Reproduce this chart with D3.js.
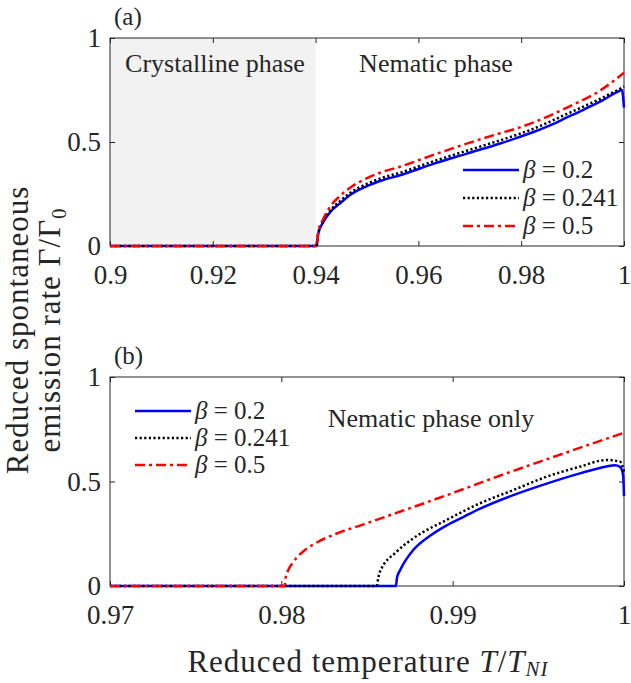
<!DOCTYPE html>
<html>
<head>
<meta charset="utf-8">
<title>Reduced spontaneous emission rate</title>
<script src="https://cdn.jsdelivr.net/npm/d3@7"></script>
<style>
  body { margin: 0; background: #fff; }
  text { font-family: "Liberation Serif", "Times New Roman", serif; fill: #262626; }
</style>
</head>
<body>
<div id="chart"></div>
<script>
// ---- data ----
// panel (a): T/T_NI from 0.9 to 1
const aBlueT  = [0.9, 0.9402, 0.9405, 0.9415, 0.943, 0.9445, 0.947, 0.9499, 0.953, 0.9564, 0.9629, 0.9694, 0.9759, 0.9792, 0.9824, 0.9856, 0.9889, 0.9921, 0.9958, 0.9985, 0.9996, 1.0];
const aBlueG  = [0, 0, 0.058, 0.115, 0.168, 0.2, 0.25, 0.287, 0.316, 0.340, 0.395, 0.444, 0.493, 0.52, 0.548, 0.58, 0.618, 0.655, 0.70, 0.738, 0.75, 0.665];
const aBlackT = [0.9, 0.9402, 0.9405, 0.9415, 0.943, 0.9445, 0.947, 0.9499, 0.953, 0.9564, 0.9629, 0.9694, 0.9759, 0.9792, 0.9824, 0.9856, 0.9889, 0.9954, 1.0];
const aBlackG = [0, 0, 0.06, 0.12, 0.175, 0.21, 0.26, 0.298, 0.328, 0.352, 0.407, 0.458, 0.508, 0.535, 0.564, 0.598, 0.635, 0.708, 0.766];
const aRedT   = [0.9, 0.9402, 0.9405, 0.9415, 0.943, 0.9445, 0.947, 0.9499, 0.953, 0.9564, 0.9629, 0.9694, 0.9759, 0.9792, 0.9824, 0.9856, 0.9889, 0.9954, 1.0];
const aRedG   = [0, 0, 0.065, 0.13, 0.195, 0.235, 0.285, 0.325, 0.356, 0.381, 0.438, 0.492, 0.542, 0.566, 0.594, 0.627, 0.665, 0.748, 0.833];

// panel (b): T/T_NI from 0.97 to 1
const bBlueT  = [0.97, 0.98669, 0.98675, 0.98693, 0.9877, 0.98868, 0.98965, 0.99062, 0.9916, 0.99354, 0.99549, 0.99743, 0.99899, 0.99947, 0.99977, 0.99995, 1.0];
const bBlueG  = [0, 0, 0.04, 0.075, 0.172, 0.24, 0.29, 0.33, 0.37, 0.435, 0.49, 0.539, 0.572, 0.578, 0.57, 0.53, 0.43];
const bBlackT = [0.97, 0.98558, 0.98565, 0.98576, 0.98673, 0.9877, 0.98965, 0.9916, 0.99354, 0.99549, 0.99743, 0.99899, 0.99977, 1.0];
const bBlackG = [0, 0, 0.035, 0.069, 0.164, 0.228, 0.316, 0.396, 0.459, 0.523, 0.571, 0.603, 0.595, 0.547];
const bRedT   = [0.97, 0.9802, 0.98025, 0.9804, 0.9807, 0.9812, 0.982, 0.9832, 0.9848, 0.9868, 0.9895, 0.993, 0.9965, 1.0];
const bRedG   = [0, 0, 0.04, 0.075, 0.115, 0.16, 0.205, 0.25, 0.295, 0.352, 0.43, 0.535, 0.635, 0.733];

const betas = ["0.2", "0.241", "0.5"];
const xTicksA = [0.9, 0.92, 0.94, 0.96, 0.98, 1];
const xTicksB = [0.97, 0.98, 0.99, 1];
const yTicks = [0, 0.5, 1];
const crystalRange = [0.9, 0.94];

// line styles for the three beta values
const styles = [
  { color: "#0000ff", dash: null },
  { color: "#000000", dash: "2.2,2.4" },
  { color: "#ff0000", dash: "10,4,3,4" }
];

const serif = '"Liberation Serif", "Times New Roman", serif';

const svg = d3.select("#chart").append("svg")
  .attr("width", 631)
  .attr("height", 683);

const fmt = d3.format("~g");

function drawPanel(opt) {
  const x = d3.scaleLinear().domain(opt.domain).range([opt.left, opt.left + opt.width]);
  const y = d3.scaleLinear().domain([0, 1]).range([opt.top + opt.height, opt.top]);
  const g = svg.append("g");

  if (opt.shade) {
    g.append("rect")
      .attr("x", x(opt.shade[0]))
      .attr("y", y(1))
      .attr("width", x(opt.shade[1]) - x(opt.shade[0]))
      .attr("height", y(0) - y(1))
      .attr("fill", "#f2f2f2");
  }

  // axes with inward ticks on all four sides
  const bottom = g.append("g").attr("transform", `translate(0,${y(0)})`)
    .call(d3.axisBottom(x).tickValues(opt.ticks).tickSize(-5).tickPadding(19).tickFormat(fmt));
  g.append("g").attr("transform", `translate(0,${y(1)})`)
    .call(d3.axisTop(x).tickValues(opt.ticks).tickSize(-5).tickFormat(""));
  const left = g.append("g").attr("transform", `translate(${x(opt.domain[0])},0)`)
    .call(d3.axisLeft(y).tickValues(yTicks).tickSize(-5).tickPadding(9).tickFormat(fmt));
  g.append("g").attr("transform", `translate(${x(opt.domain[1])},0)`)
    .call(d3.axisRight(y).tickValues(yTicks).tickSize(-5).tickFormat(""));
  g.selectAll(".domain").remove();
  g.selectAll(".tick line").attr("stroke", "#262626");
  g.selectAll("g").attr("font-family", null).attr("font-size", null);
  bottom.selectAll("text").style("font-family", serif).style("font-size", "27px").style("fill", "#262626");
  left.selectAll("text").style("font-family", serif).style("font-size", "27px").style("fill", "#262626");

  g.append("rect")
    .attr("x", x(opt.domain[0])).attr("y", y(1))
    .attr("width", x(opt.domain[1]) - x(opt.domain[0]))
    .attr("height", y(0) - y(1))
    .attr("fill", "none").attr("stroke", "#262626").attr("stroke-width", 1);

  const line = d3.line().x(d => x(d[0])).y(d => y(d[1])).curve(d3.curveMonotoneX);
  opt.series.forEach((s, i) => {
    g.append("path")
      .datum(d3.zip(s[0], s[1]))
      .attr("d", line)
      .attr("fill", "none")
      .attr("stroke", styles[i].color)
      .attr("stroke-width", 2.5)
      .attr("stroke-dasharray", styles[i].dash);
  });

  // legend
  const lg = g.append("g");
  betas.forEach((b, i) => {
    const ly = opt.legend.y + i * opt.legend.step;
    lg.append("line")
      .attr("x1", opt.legend.x).attr("x2", opt.legend.x + 56)
      .attr("y1", ly).attr("y2", ly)
      .attr("stroke", styles[i].color)
      .attr("stroke-width", 2.5)
      .attr("stroke-dasharray", styles[i].dash);
    const t = lg.append("text")
      .attr("x", opt.legend.x + 60).attr("y", ly + 8)
      .attr("font-size", 25);
    t.append("tspan").attr("font-style", "italic").text("β");
    t.append("tspan").text(" = " + b);
  });

  g.append("text")
    .attr("x", opt.left + 4).attr("y", opt.top - 13)
    .attr("font-size", 25)
    .text(opt.label);

  opt.notes.forEach(n => {
    g.append("text")
      .attr("x", n.x).attr("y", n.y)
      .attr("text-anchor", "middle")
      .attr("font-size", 26)
      .text(n.text);
  });
}

drawPanel({
  domain: [0.9, 1], ticks: xTicksA,
  left: 110, top: 38, width: 514, height: 208,
  shade: crystalRange,
  series: [[aBlueT, aBlueG], [aBlackT, aBlackG], [aRedT, aRedG]],
  legend: { x: 463, y: 170, step: 28 },
  label: "(a)",
  notes: [
    { text: "Crystalline phase", x: 215, y: 72 },
    { text: "Nematic phase", x: 436, y: 72 }
  ]
});

drawPanel({
  domain: [0.97, 1], ticks: xTicksB,
  left: 110, top: 377, width: 514, height: 209,
  shade: null,
  series: [[bBlueT, bBlueG], [bBlackT, bBlackG], [bRedT, bRedG]],
  legend: { x: 135, y: 411, step: 27 },
  label: "(b)",
  notes: [
    { text: "Nematic phase only", x: 431, y: 427 }
  ]
});

// x axis title
const xt = svg.append("text")
  .attr("x", 368).attr("y", 672)
  .attr("text-anchor", "middle")
  .attr("font-size", 31)
  .attr("letter-spacing", 1);
xt.append("tspan").text("Reduced temperature ");
xt.append("tspan").attr("font-style", "italic").text("T");
xt.append("tspan").text("/");
xt.append("tspan").attr("font-style", "italic").text("T");
xt.append("tspan").attr("font-style", "italic").attr("font-size", 21).attr("dy", 4).text("NI");

// y axis title, two lines
const yt = svg.append("g").attr("transform", "translate(0,330) rotate(-90)");
yt.append("text")
  .attr("x", 0).attr("y", 28)
  .attr("text-anchor", "middle")
  .attr("font-size", 31)
  .attr("letter-spacing", 1)
  .text("Reduced spontaneous");
const yt2 = yt.append("text")
  .attr("x", 0).attr("y", 60)
  .attr("text-anchor", "middle")
  .attr("font-size", 31)
  .attr("letter-spacing", 1);
yt2.append("tspan").text("emission rate Γ/Γ");
yt2.append("tspan").attr("font-size", 21).attr("dy", 6).text("0");
</script>
</body>
</html>
